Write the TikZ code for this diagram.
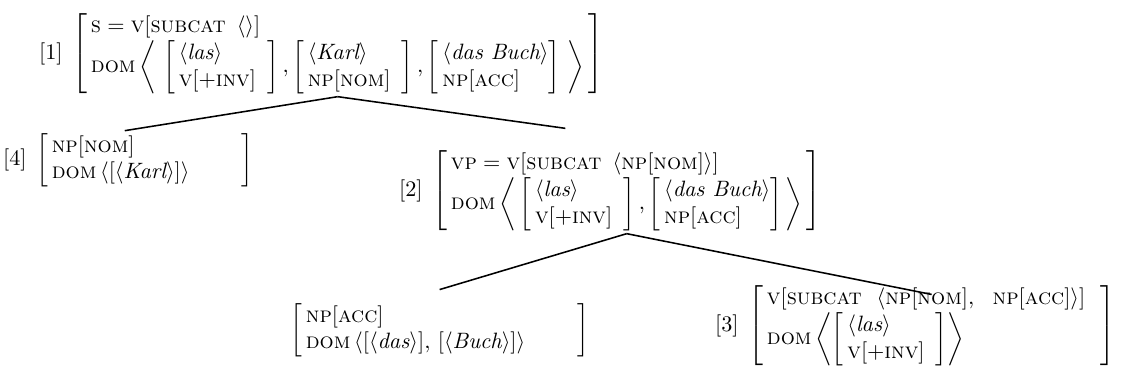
\documentclass[tikz,border=0pt]{standalone}
\usepackage{amsmath}
\usetikzlibrary{positioning}
\newcommand{\fs}[1]{\textsc{#1}}
\newcommand{\avm}[1]{\left[\begin{array}{@{\,}l@{}}#1\end{array}\right]}
\newcommand{\phon}[1]{\langle\textit{#1}\rangle}
\tikzset{
  avm/.style    = {inner sep=0pt, anchor=west},
  tag/.style    = {inner sep=0pt},
  branch/.style = {line width=0.7pt},
}

\begin{document}
\begin{tikzpicture}[x=0.45pt,y=-0.45pt]
  \useasboundingbox (0,0) rectangle (1121,381);
  % [1] the sentence
  \node[avm] (s) at (72,54) {$\avm{\fs{s} = \fs{v}[\fs{subcat}\ \,\langle\rangle]\\
      \fs{dom}\left\langle\ \avm{\phon{las}\\ \fs{v}[+\fs{inv}]\enspace},
      \avm{\phon{Karl}\\ \fs{np}[\fs{nom}]\enspace},
      \avm{\phon{das\ Buch}\\ \fs{np}[\fs{acc}]}\ \right\rangle\,}$};
  \node[tag,left=4pt of s] (t1) {[1]};
  % [4] the subject
  \node[avm] (np) at (36,160) {$\avm{\fs{np}[\fs{nom}]\\
      \fs{dom}\,\langle[\phon{Karl}]\rangle\qquad\ }$};
  \node[tag,left=4pt of np] (t4) {[4]};
  % [2] the verb phrase
  \node[avm] (vp) at (432,191) {$\avm{\fs{vp} = \fs{v}[\fs{subcat}\ \,\langle\fs{np}[\fs{nom}]\rangle]\\
      \fs{dom}\left\langle\,\avm{\phon{las}\\ \fs{v}[+\fs{inv}]\enspace},
      \avm{\phon{das\ Buch}\\ \fs{np}[\fs{acc}]}\,\right\rangle\,}$};
  \node[tag,left=4pt of vp] (t2) {[2]};
  % the object
  \node[avm] (obj) at (290,330) {$\avm{\fs{np}[\fs{acc}]\\
      \fs{dom}\,\langle[\phon{das}],\,[\phon{Buch}]\rangle\qquad\ }$};
  % [3] the verb
  \node[avm] (v) at (748,326) {$\avm{\fs{v}[\fs{subcat}\ \ \langle\fs{np}[\fs{nom}],\ \ \fs{np}[\fs{acc}]\rangle]\ \ \\
      \fs{dom}\left\langle\avm{\phon{las}\\ \fs{v}[+\fs{inv}]\enspace}\right\rangle}$};
  \node[tag,left=4pt of v] (t3) {[3]};
  % branches
  \coordinate (top1) at ([yshift=-1pt]s.south);
  \coordinate (top2) at ([yshift=-1pt]vp.south);
  \draw[branch] (top1) -- ([xshift=-9pt,yshift=1pt]np.north);
  \draw[branch] (top1) -- ([xshift=60pt,yshift=10pt]vp.north west);
  \draw[branch] (top2) -- ([yshift=6pt]obj.north);
  \draw[branch] (top2) -- ([yshift=-4pt]v.north);
\end{tikzpicture}
\end{document}
